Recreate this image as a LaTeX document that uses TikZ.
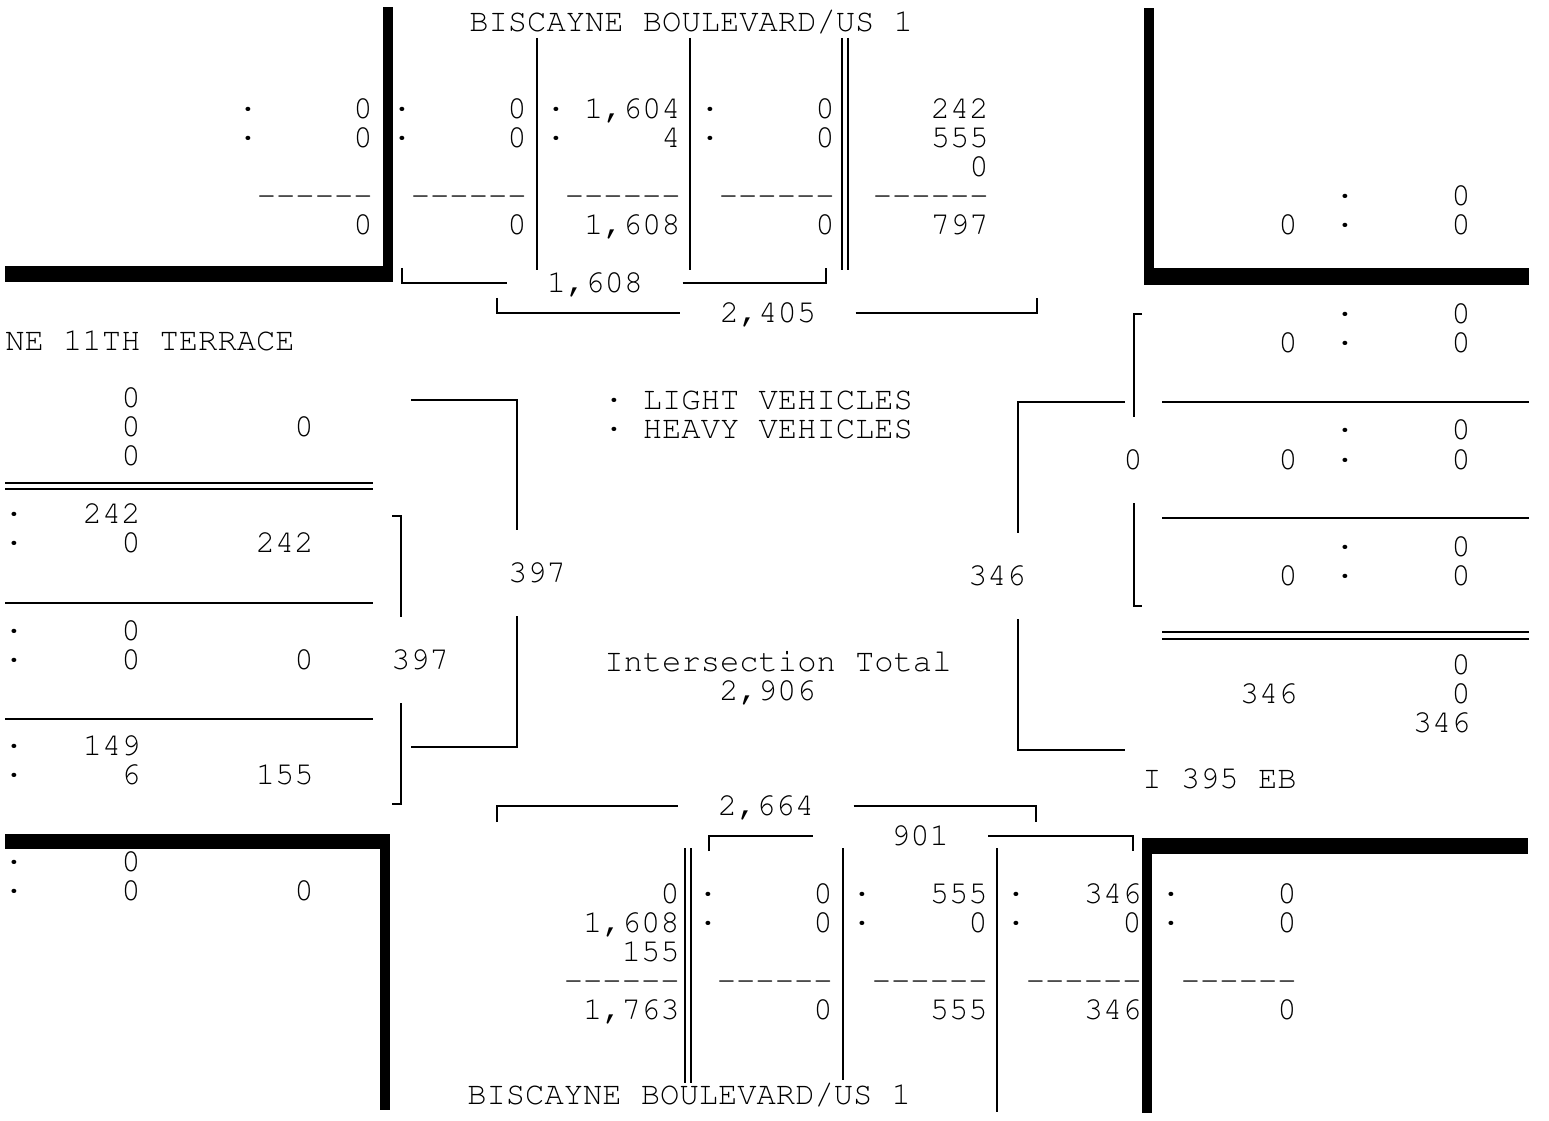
\documentclass[tikz,border=0pt]{standalone}
\usepackage[T1]{fontenc}
\newcommand{\dashrow}{-{}-{}-{}-{}-{}-}
\begin{document}
\begin{tikzpicture}[x=0.02cm,y=-0.02cm,
    txt/.style={font=\fontfamily{pcr}\fontsize{18.3}{22}\selectfont,inner sep=0pt,text height=0.37cm,text depth=0pt},
    num/.style={txt,anchor=east},
    lft/.style={txt,anchor=west},
    mid/.style={txt,anchor=center},
    hlbl/.style={mid,inner xsep=0.78cm},
    vlbl/.style={mid,inner ysep=0.67cm},
    road/.style={line width=0.04cm},
    kerb/.style={fill=black}]
  \useasboundingbox (0,0) rectangle (1549,1121);

  % Drawing kerbs
  \fill[kerb] (383,7) rectangle (393,282);
  \fill[kerb] (5,266) rectangle (393,282);
  \fill[kerb] (1144,8) rectangle (1154,285);
  \fill[kerb] (1144,268) rectangle (1529,285);
  \fill[kerb] (5,834) rectangle (390,849);
  \fill[kerb] (380,834) rectangle (390,1110);
  \fill[kerb] (1142,838) rectangle (1528,854);
  \fill[kerb] (1142,838) rectangle (1152,1113);

  % Drawing lane lines north
  \draw[road] (537,38) -- (537,270);
  \draw[road] (690,38) -- (690,270);
  \draw[road] (842,38) -- (842,270);
  \draw[road] (848,38) -- (848,270);

  % Drawing lane lines south
  \draw[road] (685,848) -- (685,1083);
  \draw[road] (691,848) -- (691,1083);
  \draw[road] (843,848) -- (843,1080);
  \draw[road] (997,848) -- (997,1112);

  % Drawing lane lines west
  \draw[road] (5,483) -- (373,483);
  \draw[road] (5,489) -- (373,489);
  \draw[road] (5,603) -- (373,603);
  \draw[road] (5,719) -- (373,719);

  % Drawing lane lines east
  \draw[road] (1162,402) -- (1529,402);
  \draw[road] (1162,518) -- (1529,518);
  \draw[road] (1162,632) -- (1529,632);
  \draw[road] (1162,639) -- (1529,639);

  % Marking street names
  \node[lft] (nname) at (469,22) {BISCAYNE BOULEVARD/US 1};
  \node[lft] (sname) at (467,1095) {BISCAYNE BOULEVARD/US 1};
  \node[lft] (wname) at (5,341) {NE 11TH TERRACE};
  \node[lft] (ename) at (1142,779) {I 395 EB};

  % Marking legend and intersection total
  \node[lft] (keyl) at (604,400) {\textperiodcentered{} LIGHT VEHICLES};
  \node[lft] (keyh) at (604,429) {\textperiodcentered{} HEAVY VEHICLES};
  \node[lft] (itot) at (604,662) {Intersection Total};
  \node[lft] (itotn) at (719,691) {2,906};

  % North approach, lane 1
  \node[mid] (nd1a) at (248,109) {\textperiodcentered};
  \node[mid] (nd1b) at (248,138) {\textperiodcentered};
  \node[num] (n1a) at (373,109) {0};
  \node[num] (n1b) at (373,138) {0};
  \node[num] (n1s) at (373,196) {\dashrow};
  \node[num] (n1t) at (373,225) {0};

  % North approach, lane 2
  \node[mid] (nd2a) at (402,109) {\textperiodcentered};
  \node[mid] (nd2b) at (402,138) {\textperiodcentered};
  \node[num] (n2a) at (527,109) {0};
  \node[num] (n2b) at (527,138) {0};
  \node[num] (n2s) at (527,196) {\dashrow};
  \node[num] (n2t) at (527,225) {0};

  % North approach, lane 3
  \node[mid] (nd3a) at (556,109) {\textperiodcentered};
  \node[mid] (nd3b) at (556,138) {\textperiodcentered};
  \node[num] (n3a) at (681,109) {1,604};
  \node[num] (n3b) at (681,138) {4};
  \node[num] (n3s) at (681,196) {\dashrow};
  \node[num] (n3t) at (681,225) {1,608};

  % North approach, lane 4
  \node[mid] (nd4a) at (710,109) {\textperiodcentered};
  \node[mid] (nd4b) at (710,138) {\textperiodcentered};
  \node[num] (n4a) at (835,109) {0};
  \node[num] (n4b) at (835,138) {0};
  \node[num] (n4s) at (835,196) {\dashrow};
  \node[num] (n4t) at (835,225) {0};

  % North exit
  \node[num] (nxa) at (989,109) {242};
  \node[num] (nxb) at (989,138) {555};
  \node[num] (nxc) at (989,167) {0};
  \node[num] (nxs) at (989,196) {\dashrow};
  \node[num] (nxt) at (989,225) {797};

  % North-east corner
  \node[mid] (ned1) at (1345,196) {\textperiodcentered};
  \node[mid] (ned2) at (1345,225) {\textperiodcentered};
  \node[num] (nea) at (1471,196) {0};
  \node[num] (neb) at (1471,225) {0};
  \node[num] (net) at (1298,225) {0};

  % East approach, lane 1
  \node[mid] (ed1a) at (1345,314) {\textperiodcentered};
  \node[mid] (ed1b) at (1345,343) {\textperiodcentered};
  \node[num] (e1a) at (1471,314) {0};
  \node[num] (e1b) at (1471,343) {0};
  \node[num] (e1t) at (1298,343) {0};

  % East approach, lane 2
  \node[mid] (ed2a) at (1345,430) {\textperiodcentered};
  \node[mid] (ed2b) at (1345,460) {\textperiodcentered};
  \node[num] (e2a) at (1471,430) {0};
  \node[num] (e2b) at (1471,460) {0};
  \node[num] (e2t) at (1298,460) {0};

  % East approach, lane 3
  \node[mid] (ed3a) at (1345,547) {\textperiodcentered};
  \node[mid] (ed3b) at (1345,576) {\textperiodcentered};
  \node[num] (e3a) at (1471,547) {0};
  \node[num] (e3b) at (1471,576) {0};
  \node[num] (e3t) at (1298,576) {0};

  % East exit
  \node[num] (exa) at (1471,665) {0};
  \node[num] (exb) at (1471,694) {0};
  \node[num] (exc) at (1471,723) {346};
  \node[num] (ext) at (1298,694) {346};

  % West exit
  \node[num] (wxa) at (141,398) {0};
  \node[num] (wxb) at (141,427) {0};
  \node[num] (wxc) at (141,456) {0};
  \node[num] (wxt) at (314,427) {0};

  % West approach, lane 1
  \node[mid] (wd1a) at (14,514) {\textperiodcentered};
  \node[mid] (wd1b) at (14,543) {\textperiodcentered};
  \node[num] (w1a) at (141,514) {242};
  \node[num] (w1b) at (141,543) {0};
  \node[num] (w1t) at (314,543) {242};

  % West approach, lane 2
  \node[mid] (wd2a) at (14,631) {\textperiodcentered};
  \node[mid] (wd2b) at (14,660) {\textperiodcentered};
  \node[num] (w2a) at (141,631) {0};
  \node[num] (w2b) at (141,660) {0};
  \node[num] (w2t) at (314,660) {0};

  % West approach, lane 3
  \node[mid] (wd3a) at (14,746) {\textperiodcentered};
  \node[mid] (wd3b) at (14,775) {\textperiodcentered};
  \node[num] (w3a) at (141,746) {149};
  \node[num] (w3b) at (141,775) {6};
  \node[num] (w3t) at (314,775) {155};

  % South-west corner
  \node[mid] (swd1) at (14,862) {\textperiodcentered};
  \node[mid] (swd2) at (14,891) {\textperiodcentered};
  \node[num] (swa) at (141,862) {0};
  \node[num] (swb) at (141,891) {0};
  \node[num] (swt) at (314,891) {0};

  % South exit
  \node[num] (sxa) at (680,894) {0};
  \node[num] (sxb) at (680,923) {1,608};
  \node[num] (sxc) at (680,952) {155};
  \node[num] (sxs) at (680,981) {\dashrow};
  \node[num] (sxt) at (680,1010) {1,763};

  % South approach, lane 1
  \node[mid] (sd1a) at (708,894) {\textperiodcentered};
  \node[mid] (sd1b) at (708,923) {\textperiodcentered};
  \node[num] (s1a) at (833,894) {0};
  \node[num] (s1b) at (833,923) {0};
  \node[num] (s1s) at (833,981) {\dashrow};
  \node[num] (s1t) at (833,1010) {0};

  % South approach, lane 2
  \node[mid] (sd2a) at (862,894) {\textperiodcentered};
  \node[mid] (sd2b) at (862,923) {\textperiodcentered};
  \node[num] (s2a) at (988,894) {555};
  \node[num] (s2b) at (988,923) {0};
  \node[num] (s2s) at (988,981) {\dashrow};
  \node[num] (s2t) at (988,1010) {555};

  % South approach, lane 3
  \node[mid] (sd3a) at (1016,894) {\textperiodcentered};
  \node[mid] (sd3b) at (1016,923) {\textperiodcentered};
  \node[num] (s3a) at (1142,894) {346};
  \node[num] (s3b) at (1142,923) {0};
  \node[num] (s3s) at (1142,981) {\dashrow};
  \node[num] (s3t) at (1142,1010) {346};

  % South-east corner
  \node[mid] (sd4a) at (1171,894) {\textperiodcentered};
  \node[mid] (sd4b) at (1171,923) {\textperiodcentered};
  \node[num] (s4a) at (1297,894) {0};
  \node[num] (s4b) at (1297,923) {0};
  \node[num] (s4s) at (1297,981) {\dashrow};
  \node[num] (s4t) at (1297,1010) {0};

  % Drawing bracket north 1,608
  \node[hlbl] (nb1) at (595,283) {1,608};
  \draw[road] (402,268) |- (nb1.west);
  \draw[road] (nb1.east) -| (826,268);

  % Drawing bracket north 2,405
  \node[hlbl] (nb2) at (768,313) {2,405};
  \draw[road] (497,298) |- (nb2.west);
  \draw[road] (nb2.east) -| (1037,298);

  % Drawing bracket south 2,664
  \node[hlbl] (sb2) at (766,806) {2,664};
  \draw[road] (497,822) |- (sb2.west);
  \draw[road] (sb2.east) -| (1036,822);

  % Drawing bracket south 901
  \node[hlbl] (sb1) at (920,836) {901};
  \draw[road] (709,851) |- ([xshift=-0.78cm]sb1.west);
  \draw[road] (sb1.east) -| (1133,851);

  % Drawing bracket west 397 (outer)
  \node[vlbl] (wb2) at (537,573) {397};
  \draw[road] (411,400) -| (517,0 |- wb2.north);
  \draw[road] (517,0 |- wb2.south) |- (411,747);

  % Drawing bracket west 397 (inner)
  \node[vlbl] (wb1) at (420,660) {397};
  \draw[road] (392,516) -| (401,0 |- wb1.north);
  \draw[road] (401,0 |- wb1.south) |- (392,804);

  % Drawing bracket east 346
  \node[vlbl] (eb2) at (997,576) {346};
  \draw[road] (1125,402) -| (1018,0 |- eb2.north);
  \draw[road] (1018,0 |- eb2.south) |- (1125,750);

  % Drawing bracket east 0
  \node[vlbl] (eb1) at (1133,460) {0};
  \draw[road] (1142,314) -| (1134,0 |- eb1.north);
  \draw[road] (1134,0 |- eb1.south) |- (1142,606);
\end{tikzpicture}
\end{document}
